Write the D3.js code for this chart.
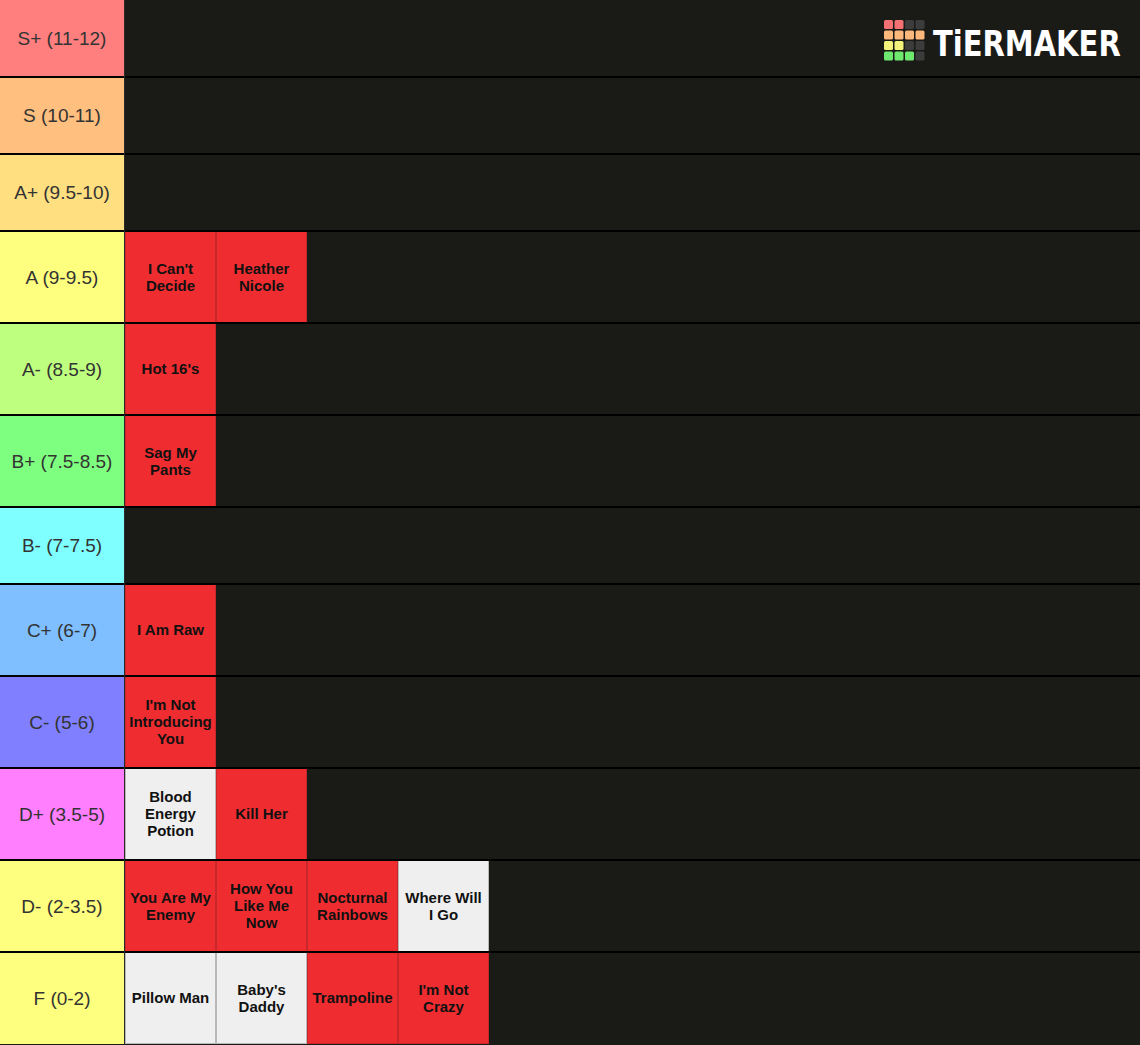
<!DOCTYPE html>
<html><head><meta charset="utf-8">
<script src="https://cdn.jsdelivr.net/npm/d3@7"></script>
<style>
html,body{margin:0;padding:0;background:#1a1a17;}
svg{display:block;}
</style></head>
<body>
<svg id="chart" width="1140" height="1045"></svg>
<script>
const tierLabels = ["S+ (11-12)","S (10-11)","A+ (9.5-10)","A (9-9.5)","A- (8.5-9)","B+ (7.5-8.5)","B- (7-7.5)","C+ (6-7)","C- (5-6)","D+ (3.5-5)","D- (2-3.5)","F (0-2)"];
const tierColors = ["#ff7f7f","#ffbf7f","#ffdf7f","#ffff7f","#bfff7f","#7fff7f","#7fffff","#7fbfff","#7f7fff","#ff7fff","#ffff7f","#ffff7f"];
const tierItems = [
  [],
  [],
  [],
  ["I Can't\nDecide","Heather\nNicole"],
  ["Hot 16's"],
  ["Sag My\nPants"],
  [],
  ["I Am Raw"],
  ["I'm Not\nIntroducing\nYou"],
  ["Blood\nEnergy\nPotion","Kill Her"],
  ["You Are My\nEnemy","How You\nLike Me\nNow","Nocturnal\nRainbows","Where Will\nI Go"],
  ["Pillow Man","Baby's\nDaddy","Trampoline","I'm Not\nCrazy"]
];
const itemKinds = [
  [],[],[],
  ["red","red"],
  ["red"],
  ["red"],
  [],
  ["red"],
  ["red"],
  ["white","red"],
  ["red","red","red","white"],
  ["white","white","red","red"]
];
const logoGrid = [
  ["#f47173","#f47173","#3c3c3c","#3c3c3c"],
  ["#fcb77a","#fcb77a","#fcb77a","#fcb77a"],
  ["#f4f27a","#f4f27a","#3c3c3c","#3c3c3c"],
  ["#6ee86e","#6ee86e","#6ee86e","#3c3c3c"]
];

const W = 1140, H = 1045;
const labelW = 124, itemW = 91, emptyH = 77, fullH = 92;
const kindFill = {red:"#ef2c30", white:"#efefef"};
const kindStroke = {red:"#c8282b", white:"#b8b8b8"};

const svg = d3.select("#chart");
svg.append("rect").attr("width",W).attr("height",H).attr("fill","#1a1a17");

// row positions
const heights = tierItems.map(it => it.length ? fullH : emptyH);
const tops = [];
let acc = 0;
heights.forEach(h => { tops.push(acc); acc += h; });
const y = d3.scaleOrdinal().domain(d3.range(tierLabels.length)).range(tops);
const x = d3.scaleLinear().domain([0,1]).range([labelW+1, labelW+1+itemW]);

const rows = svg.selectAll("g.row").data(tierLabels).join("g")
  .attr("class","row")
  .attr("transform",(d,i)=>`translate(0,${y(i)})`);

rows.append("rect")
  .attr("x",0).attr("y",0).attr("width",labelW).attr("height",(d,i)=>heights[i])
  .attr("fill",(d,i)=>tierColors[i]);
rows.append("text")
  .attr("x",labelW/2).attr("y",(d,i)=>heights[i]/2)
  .attr("text-anchor","middle").attr("dominant-baseline","central")
  .attr("font-family","'Liberation Sans', Arial, sans-serif")
  .attr("font-size",19).attr("fill","#333")
  .text(d=>d);

rows.each(function(d,i){
  const g = d3.select(this);
  const items = tierItems[i].map((name,j)=>({name, kind:itemKinds[i][j], j}));
  const cells = g.selectAll("g.item").data(items).join("g").attr("class","item")
    .attr("transform",it=>`translate(${x(it.j)},0)`);
  cells.append("rect")
    .attr("x",0.5).attr("y",0.5).attr("width",itemW-1).attr("height",heights[i]-1)
    .attr("fill",it=>kindFill[it.kind]).attr("stroke",it=>kindStroke[it.kind]).attr("stroke-width",1);
  cells.each(function(it){
    const lines = it.name.split("\n");
    const lh = 17;
    const t = d3.select(this).append("text")
      .attr("text-anchor","middle")
      .attr("font-family","'Liberation Sans', Arial, sans-serif")
      .attr("font-weight","bold").attr("font-size",15).attr("fill","#111");
    const startY = heights[i]/2 - (lines.length-1)*lh/2;
    lines.forEach((ln,k)=>{
      t.append("tspan").attr("x",itemW/2).attr("y",startY + k*lh).attr("dy","0.35em").text(ln);
    });
  });
});

// row separators
svg.selectAll("line.sep").data(tops.slice(1)).join("line").attr("class","sep")
  .attr("x1",0).attr("x2",W).attr("y1",d=>d).attr("y2",d=>d)
  .attr("stroke","#000").attr("stroke-width",2);
// label column border
svg.append("line").attr("x1",labelW+0.5).attr("x2",labelW+0.5).attr("y1",0).attr("y2",H)
  .attr("stroke","#2a2a2a").attr("stroke-width",1);

// logo
const logo = svg.append("g").attr("transform","translate(884,20)");
logoGrid.forEach((row,r)=>row.forEach((c,k)=>{
  logo.append("rect").attr("x",k*10.5).attr("y",r*10.5).attr("width",9).attr("height",9).attr("rx",1.5).attr("fill",c);
}));
svg.append("g").attr("transform","translate(933,56) scale(1.0,1.25)")
  .append("text").attr("x",0).attr("y",0)
  .attr("font-family","'DejaVu Sans', sans-serif").attr("font-weight","bold")
  .attr("font-size",29).attr("fill","#fff")
  .text("TiERMAKER");
</script>
</body></html>
